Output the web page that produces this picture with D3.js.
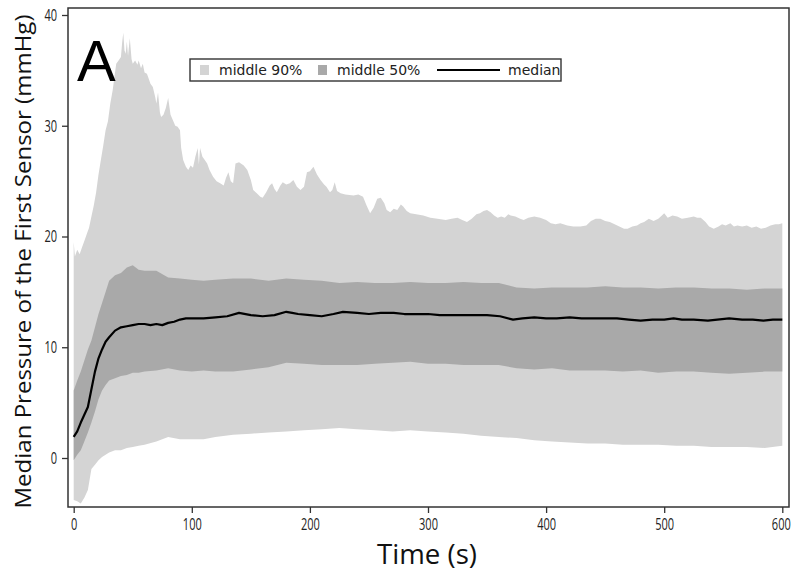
<!DOCTYPE html>
<html>
<head>
<meta charset="utf-8">
<script src="https://cdn.jsdelivr.net/npm/d3@7"></script>
<style>
  body { margin: 0; background: #fff; }
  svg { display: block; }
  .tick text { font-family: "Open Sans", "DejaVu Sans", sans-serif; font-size: 16.5px; fill: #222; }
</style>
</head>
<body>
<div id="chart"></div>
<script>
// upper edge of the middle 90% band (own time grid, it is jagged)
const tUpper90 = [0, 1, 3, 5, 7, 9, 11, 13, 15, 17, 19, 21, 23, 25, 27, 29, 31, 33, 35, 36, 38, 40, 41, 42, 43, 44, 45, 46, 47.5, 49,
  50, 52, 54, 55, 57, 58.5, 60, 62, 63, 65, 67, 69, 70, 71.4, 73, 74, 76, 78, 80, 82, 84, 86, 88, 90, 91, 92.7, 95, 97, 99, 101,
  103, 105, 106, 107, 109, 111, 113, 115, 118, 121, 124, 127, 129, 131, 133, 135, 137, 140, 144, 147, 150, 152, 155, 158, 160, 163,
  166, 168, 170, 172, 175, 177, 180, 183, 186, 189, 192, 195, 197.5, 200, 203, 206, 209, 212, 214, 217, 219, 221, 223, 226, 230,
  237, 241, 245, 248, 251, 254, 257, 260, 263, 265, 268, 271, 274, 277, 279, 282, 285, 290, 296, 302, 308, 315, 320, 325, 329, 333,
  337, 341, 344, 347, 350, 353, 356, 359, 362, 365, 368, 370, 374, 378, 381, 385, 390, 395, 400, 404, 408, 412, 418, 423, 429, 434,
  438, 442, 446, 450, 454, 458, 462, 466, 469, 473, 477, 480, 483, 487, 491, 495, 498, 500, 503, 507, 511, 515, 520, 525, 528, 531,
  535, 538, 542, 546, 549, 552, 556, 559, 562, 566, 570, 574, 578, 582, 586, 590, 594, 597, 600];
const upper90 = [19.5, 18.2, 18.8, 18.4, 19.0, 19.6, 20.2, 20.8, 21.8, 22.8, 24.0, 25.6, 26.9, 28.2, 29.6, 30.4, 32.0, 33.2, 34.8, 35.6, 35.9, 36.2, 37.5, 38.4, 36.8, 36.5, 37.6, 36.3, 37.9, 36.0,
  35.6, 35.9, 35.5, 35.9, 35.2, 35.6, 34.8, 34.7, 34.4, 33.8, 33.5, 32.6, 32.0, 33.0, 31.2, 30.8, 31.0, 31.6, 32.5, 31.0, 30.5, 30.0, 29.9, 29.6, 28.0, 26.9, 26.3, 26.0, 26.4, 26.2,
  27.2, 28.0, 26.5, 28.0, 27.2, 26.9, 26.6, 26.0, 25.4, 25.0, 24.8, 24.6, 25.3, 25.8, 25.0, 24.8, 26.6, 26.7, 26.4, 26.0, 25.1, 24.2, 23.9, 23.6, 23.5, 24.0,
  24.6, 24.8, 24.3, 24.0, 24.6, 24.9, 24.7, 24.8, 25.1, 24.5, 24.2, 24.5, 25.8, 25.9, 26.3, 25.6, 25.1, 24.7, 24.5, 24.0, 24.2, 24.9, 24.1, 23.9, 23.8,
  23.7, 23.8, 23.6, 22.8, 22.1, 22.6, 23.4, 23.5, 23.0, 22.4, 22.2, 22.5, 22.4, 22.9, 22.7, 22.3, 22.1, 22.0, 21.9, 21.7, 21.6, 21.5, 21.6, 21.7, 21.5, 21.3,
  21.6, 22.0, 22.1, 22.3, 22.4, 22.2, 21.9, 21.7, 21.8, 21.7, 22.0, 21.9, 21.8, 21.6, 21.5, 21.7, 21.8, 21.7, 21.5, 21.2, 21.1, 21.2, 21.0, 20.9, 20.9, 21.0,
  21.4, 21.6, 21.6, 21.4, 21.3, 21.1, 20.9, 20.7, 20.7, 20.9, 21.0, 21.2, 21.3, 21.6, 21.4, 21.6, 21.9, 22.1, 21.7, 21.9, 21.8, 21.6, 21.7, 21.8, 21.7, 21.7,
  21.3, 20.9, 20.7, 20.9, 21.1, 21.0, 21.2, 20.9, 21.0, 20.9, 21.0, 20.8, 20.9, 20.7, 20.8, 21.0, 21.1, 21.1, 21.2];

// time grid shared by the other edges
const tBand = [0, 3, 6, 9, 12, 15, 18, 21, 24, 27, 30, 35, 40, 45, 50, 55, 60, 70, 80, 90, 100, 110, 120, 135, 150, 165, 180, 195,
  210, 225, 240, 255, 270, 285, 300, 315, 330, 345, 360, 375, 390, 405, 420, 435, 450, 465, 480, 495, 510, 525, 540, 555, 570, 585, 600];
const lower90 = [-3.8, -3.9, -4.1, -3.6, -2.9, -1.0, -0.6, -0.2, 0.1, 0.3, 0.5, 0.7, 0.7, 0.9, 1.0, 1.1, 1.2, 1.5, 1.9, 1.7, 1.7, 1.7, 1.9, 2.1, 2.2, 2.3, 2.4, 2.5,
  2.6, 2.7, 2.6, 2.5, 2.4, 2.5, 2.4, 2.3, 2.2, 2.0, 1.9, 1.8, 1.6, 1.5, 1.4, 1.3, 1.3, 1.2, 1.2, 1.2, 1.1, 1.1, 1.0, 1.0, 1.0, 0.9, 1.1];
const upper50 = [6.1, 7.0, 7.8, 8.8, 9.8, 10.6, 11.8, 13.0, 14.0, 15.0, 16.0, 16.5, 16.7, 17.2, 17.4, 17.0, 16.9, 16.9, 16.3, 16.2, 16.1, 16.0, 16.1, 16.2, 16.2, 16.0, 16.2, 16.1,
  16.0, 15.8, 15.9, 15.8, 15.8, 15.9, 15.8, 15.8, 15.9, 15.8, 15.8, 15.4, 15.3, 15.4, 15.4, 15.4, 15.5, 15.4, 15.4, 15.3, 15.4, 15.4, 15.3, 15.3, 15.2, 15.3, 15.3];
const lower50 = [-0.2, 0.3, 0.7, 1.5, 2.3, 3.2, 4.2, 5.3, 6.1, 6.6, 7.0, 7.2, 7.4, 7.5, 7.7, 7.7, 7.8, 7.9, 8.1, 7.9, 7.8, 7.9, 7.8, 7.8, 8.0, 8.2, 8.6, 8.5,
  8.4, 8.4, 8.4, 8.5, 8.6, 8.7, 8.5, 8.5, 8.4, 8.4, 8.4, 8.1, 8.0, 8.1, 7.9, 7.9, 7.9, 7.8, 7.9, 7.7, 7.8, 7.8, 7.7, 7.6, 7.7, 7.8, 7.8];

// median on a finer grid (it wobbles a little)
const tMedian = [0, 3, 6, 9, 12, 15, 18, 21, 24, 27, 30, 35, 40, 45, 50, 55, 60, 65, 70, 75, 80, 85, 90, 95, 100, 110, 120, 130, 140, 150,
  160, 170, 180, 185, 190, 200, 210, 220, 228, 240, 250, 260, 271, 280, 290, 300, 310, 319, 330, 340, 350, 361, 372, 380, 390, 400, 409,
  420, 430, 440, 450, 460, 470, 480, 490, 500, 508, 515, 525, 537, 545, 555, 566, 575, 584, 592, 600];
const median = [1.9, 2.4, 3.2, 3.9, 4.6, 6.2, 7.8, 9.0, 9.8, 10.5, 10.9, 11.5, 11.8, 11.9, 12.0, 12.1, 12.1, 12.0, 12.1, 12.0, 12.2, 12.3, 12.5, 12.6, 12.6, 12.6, 12.7, 12.8, 13.1, 12.9,
  12.8, 12.9, 13.2, 13.1, 13.0, 12.9, 12.8, 13.0, 13.2, 13.1, 13.0, 13.1, 13.1, 13.0, 13.0, 13.0, 12.9, 12.9, 12.9, 12.9, 12.9, 12.8, 12.5, 12.6, 12.7, 12.6, 12.6,
  12.7, 12.6, 12.6, 12.6, 12.6, 12.5, 12.4, 12.5, 12.5, 12.6, 12.5, 12.5, 12.4, 12.5, 12.6, 12.5, 12.5, 12.4, 12.5, 12.5];

const xTicks = [0, 100, 200, 300, 400, 500, 600];
const yTicks = [0, 10, 20, 30, 40];
const legendItems = ['middle 90%', 'middle 50%', 'median'];

const W = 800, H = 580;
const frame = { left: 68, right: 789, top: 8, bottom: 507 };
const LIGHT = '#d4d4d4', DARK = '#a9a9a9';

const svg = d3.select('#chart').append('svg')
  .attr('width', W)
  .attr('height', H);

const x = d3.scaleLinear().domain([0, 600]).range([73.7, 782.3]);
const y = d3.scaleLinear().domain([0, 40]).range([458, 15]);

// middle 90% band: upper edge forward, lower edge back
const band90 = tUpper90.map((t, i) => [x(t), y(upper90[i])])
  .concat(tBand.map((t, i) => [x(t), y(lower90[i])]).reverse());
svg.append('path')
  .attr('d', d3.line()(band90) + 'Z')
  .attr('fill', LIGHT);

const bandData = tBand.map((t, i) => ({ t, lo: lower50[i], hi: upper50[i] }));

svg.append('path')
  .datum(bandData)
  .attr('fill', DARK)
  .attr('d', d3.area().x(d => x(d.t)).y0(d => y(d.lo)).y1(d => y(d.hi)));

svg.append('path')
  .datum(tMedian.map((t, i) => ({ t, v: median[i] })))
  .attr('fill', 'none')
  .attr('stroke', '#000')
  .attr('stroke-width', 2.2)
  .attr('stroke-linejoin', 'round')
  .attr('d', d3.line().x(d => x(d.t)).y(d => y(d.v)));

// axes
const xAxis = svg.append('g')
  .attr('transform', `translate(0,${frame.bottom})`)
  .call(d3.axisBottom(x).tickValues(xTicks).tickSize(6).tickPadding(5));
const yAxis = svg.append('g')
  .attr('transform', `translate(${frame.left},0)`)
  .call(d3.axisLeft(y).tickValues(yTicks).tickSize(6).tickPadding(5));
[xAxis, yAxis].forEach(a => {
  a.select('.domain').remove();
  a.selectAll('.tick line').attr('stroke', '#333').attr('stroke-width', 1.3);
  // labels in the reference use a narrow face
  a.selectAll('.tick text')
    .attr('textLength', function () { return this.textContent.length * 6.3; })
    .attr('lengthAdjust', 'spacingAndGlyphs');
});
// keep the last label clear of the page edge
xAxis.selectAll('.tick text').filter(d => d === 600).attr('dx', -1.5);

svg.append('rect')
  .attr('x', frame.left).attr('y', frame.top)
  .attr('width', frame.right - frame.left)
  .attr('height', frame.bottom - frame.top)
  .attr('fill', 'none')
  .attr('stroke', '#333')
  .attr('stroke-width', 1.5);

// titles
svg.append('text')
  .attr('x', 427).attr('y', 564)
  .attr('text-anchor', 'middle')
  .attr('textLength', 100)
  .attr('lengthAdjust', 'spacingAndGlyphs')
  .style('font-family', '"Open Sans", "DejaVu Sans", sans-serif')
  .style('font-size', '27px')
  .attr('fill', '#111')
  .text('Time (s)');

svg.append('text')
  .attr('transform', `translate(31,${(frame.top + frame.bottom) / 2 + 4}) rotate(-90)`)
  .attr('text-anchor', 'middle')
  .attr('textLength', 494)
  .attr('lengthAdjust', 'spacingAndGlyphs')
  .style('font-family', '"Open Sans", "DejaVu Sans", sans-serif')
  .style('font-size', '22.5px')
  .attr('fill', '#111')
  .text('Median Pressure of the First Sensor (mmHg)');

svg.append('text')
  .attr('x', 77).attr('y', 81)
  .style('font-family', '"Liberation Sans", Arial, sans-serif')
  .style('font-size', '58px')
  .attr('fill', '#000')
  .text('A');

// legend
const legend = svg.append('g').attr('transform', 'translate(190,59)');
legend.append('rect')
  .attr('width', 371).attr('height', 22)
  .attr('fill', '#fff')
  .attr('stroke', '#333')
  .attr('stroke-width', 1.4);

const legendX = [10, 128, 247];
legendItems.forEach((name, i) => {
  const g = legend.append('g').attr('transform', `translate(${legendX[i]},0)`);
  if (i < 2) {
    g.append('rect')
      .attr('x', 0).attr('y', 6)
      .attr('width', 9).attr('height', 10)
      .attr('fill', i === 0 ? LIGHT : DARK);
  } else {
    g.append('line')
      .attr('x1', 0).attr('x2', 63)
      .attr('y1', 11).attr('y2', 11)
      .attr('stroke', '#000')
      .attr('stroke-width', 2);
  }
  g.append('text')
    .attr('x', i < 2 ? 19 : 71).attr('y', 16)
    .style('font-family', '"DejaVu Sans", sans-serif')
    .style('font-size', '14px')
    .attr('fill', '#222')
    .text(name);
});
</script>
</body>
</html>
